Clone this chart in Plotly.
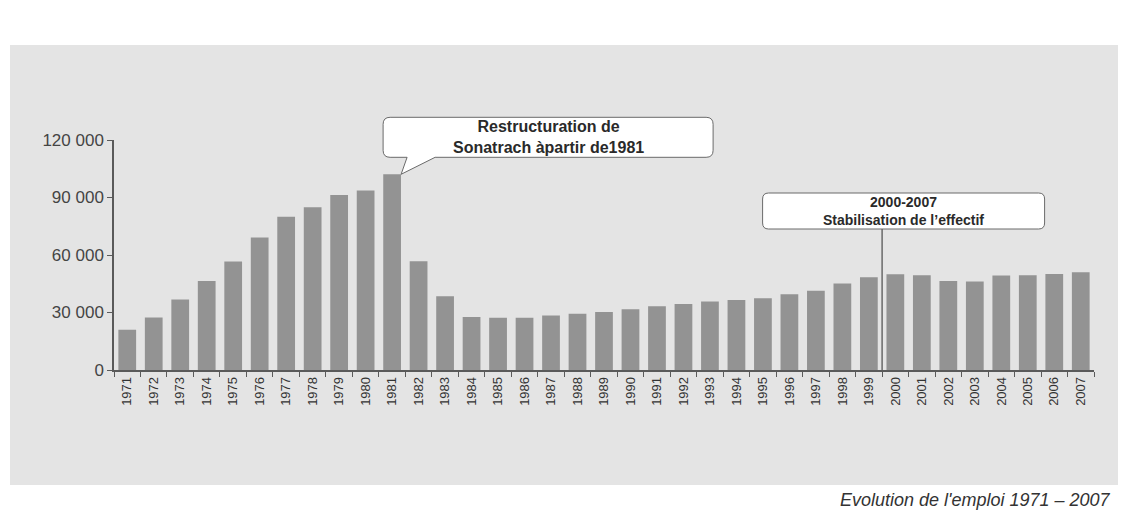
import plotly.graph_objects as go

# Sonatrach workforce, 1971-2007
years = [str(y) for y in range(1971, 2008)]
effectif = [
    21000, 27400, 36800, 46400, 56600, 69100, 80000, 84900, 91300, 93600,
    102100, 56700, 38500, 27600, 27300, 27300, 28400, 29300, 30300, 31700,
    33300, 34500, 35800, 36500, 37400, 39500, 41400, 45100, 48400, 49900,
    49500, 46500, 46200, 49300, 49500, 50100, 51000,
]
y_ticks = [0, 30000, 60000, 90000, 120000]
y_tick_labels = ["0", "30 000", "60 000", "90 000", "120 000"]

callout_1981 = "Restructuration de<br>Sonatrach àpartir de1981"
callout_2000 = "2000-2007<br>Stabilisation de l’effectif"
caption = "Evolution de l'emploi 1971 – 2007"

FONT = "Liberation Sans, Arial, Helvetica, sans-serif"
BAR = "#939393"
PANEL = "#e4e4e4"
INK = "#2a2a2a"
AXIS = "#5a5a5a"
OUTLINE = "#6a6a6a"

W, H = 1122, 526
ML, MR, MT, MB = 114, 28, 140, 156
PW, PH = W - ML - MR, H - MT - MB
Y_MAX = 120000
n = len(years)


def px_to_paper_x(px):
    return (px - ML) / PW


def px_to_paper_y(py):
    return (H - MB - py) / PH


def cat_paper_x(idx):
    # paper position of a category centre (or boundary for .5 values)
    return (idx + 0.5) / n


def box_path(x0, y0, x1, y1, r, tail=None):
    """Rounded box in pixel offsets; optional tail (tip, base_left, base_right)
    hanging from the bottom edge."""
    if tail:
        (tx, ty), bl, br = tail
        start = f"M{tx},{ty} L{br},{y0} "
        end = f"L{bl},{y0} Z"
    else:
        start = f"M{x0 + r},{y0} "
        end = "Z"
    return (start
            + f"L{x1 - r},{y0} Q{x1},{y0} {x1},{y0 + r} "
            + f"L{x1},{y1 - r} Q{x1},{y1} {x1 - r},{y1} "
            + f"L{x0 + r},{y1} Q{x0},{y1} {x0},{y1 - r} "
            + f"L{x0},{y0 + r} Q{x0},{y0} {x0 + r},{y0} "
            + end)


fig = go.Figure(go.Bar(
    x=years, y=effectif, marker=dict(color=BAR, line=dict(width=0)),
    hoverinfo="x+y",
))

shapes = []
# grey panel behind the chart
shapes.append(dict(
    type="rect", xref="paper", yref="paper", layer="below",
    x0=px_to_paper_x(10), x1=px_to_paper_x(1118),
    y0=px_to_paper_y(485), y1=px_to_paper_y(45),
    fillcolor=PANEL, line=dict(width=0),
))

# speech-bubble callout pointing at the 1981 peak
i81 = years.index("1981")
v81 = effectif[i81]
bx0, bx1, by0, by1 = -9, 321, 17, 57
shapes.append(dict(
    type="path", xref="paper", yref="paper",
    xsizemode="pixel", ysizemode="pixel",
    xanchor=cat_paper_x(i81), yanchor=v81 / Y_MAX,
    path=box_path(bx0, by0, bx1, by1, 7, tail=((9, 0), 15, 43)),
    fillcolor="white", line=dict(color=OUTLINE, width=1),
))

# boxed label with a leader line down to the 1999/2000 boundary
i00 = years.index("2000") - 0.5
cx0, cx1, cy0, cy1 = -119.5, 162.5, 141, 177
shapes.append(dict(
    type="path", xref="paper", yref="paper",
    xsizemode="pixel", ysizemode="pixel",
    xanchor=cat_paper_x(i00), yanchor=0,
    path=f"M0,0 L0,{cy0}", line=dict(color=OUTLINE, width=1.5),
))
shapes.append(dict(
    type="path", xref="paper", yref="paper",
    xsizemode="pixel", ysizemode="pixel",
    xanchor=cat_paper_x(i00), yanchor=0,
    path=box_path(cx0, cy0, cx1, cy1, 6),
    fillcolor="white", line=dict(color=OUTLINE, width=1),
))

annotations = [
    dict(
        text=callout_1981, xref="paper", yref="paper",
        x=cat_paper_x(i81), y=v81 / Y_MAX,
        xshift=(bx0 + bx1) / 2, yshift=(by0 + by1) / 2,
        xanchor="center", yanchor="middle", showarrow=False, align="center",
        font=dict(family=FONT, size=16, color=INK, weight="bold"),
    ),
    dict(
        text=callout_2000, xref="paper", yref="paper",
        x=cat_paper_x(i00), y=0,
        xshift=(cx0 + cx1) / 2, yshift=(cy0 + cy1) / 2,
        xanchor="center", yanchor="middle", showarrow=False, align="center",
        font=dict(family=FONT, size=14, color=INK, weight="bold"),
    ),
    dict(
        text=caption, xref="paper", yref="paper",
        x=px_to_paper_x(1113), y=px_to_paper_y(500),
        xanchor="right", yanchor="middle", showarrow=False,
        font=dict(family=FONT, size=18, color="#333333", style="italic"),
    ),
]

fig.update_layout(
    width=W, height=H, autosize=False,
    margin=dict(l=ML, r=MR, t=MT, b=MB, pad=0),
    paper_bgcolor="white", plot_bgcolor="rgba(0,0,0,0)",
    bargap=0.33, showlegend=False,
    shapes=shapes, annotations=annotations,
    font=dict(family=FONT, color="#333333"),
)
fig.update_xaxes(
    type="category", range=[-0.5, n - 0.5],
    showline=True, linecolor=AXIS, linewidth=1.5,
    ticks="outside", tickson="boundaries", ticklen=5, tickcolor=AXIS, tickwidth=1,
    tickangle=-90, tickfont=dict(family=FONT, size=13, color="#333333"),
    showgrid=False, zeroline=False,
)
fig.update_yaxes(
    range=[0, Y_MAX], tickvals=y_ticks, ticktext=y_tick_labels,
    showline=True, linecolor=AXIS, linewidth=1.5,
    ticks="outside", ticklen=5, tickcolor=AXIS, tickwidth=1,
    tickfont=dict(family=FONT, size=17, color="#444444"),
    showgrid=False, zeroline=False,
)

fig.write_html("out.html", config={"displayModeBar": False})
